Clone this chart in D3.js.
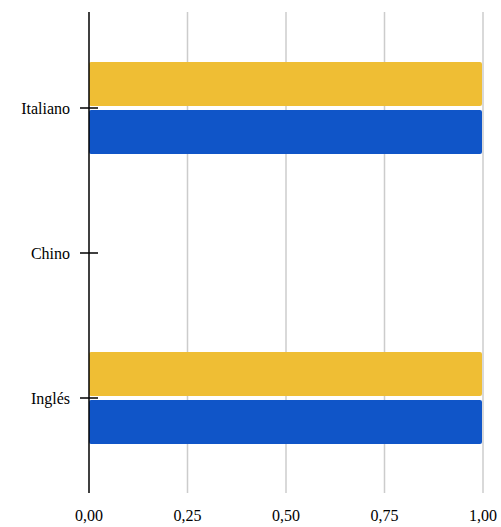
<!DOCTYPE html>
<html><head><meta charset="utf-8">
<script src="https://cdn.jsdelivr.net/npm/d3@7"></script>
<style>body{margin:0;background:#fff}svg{display:block}</style>
</head><body>
<script>
const categories = ["Italiano", "Chino", "Inglés"];
const seriesNames = ["Serie A", "Serie B"];
const seriesA = [1, 0, 1];
const seriesB = [1, 0, 1];
const xTicks = [0, 0.25, 0.5, 0.75, 1];
const colors = ["#EFBE34", "#1055C8"];

const W = 501, H = 527;
const svg = d3.select("body").append("svg").attr("width", W).attr("height", H);
const font = "'Liberation Serif', serif";

const x = d3.scaleLinear().domain([0, 1]).range([89, 483]);
const y = d3.scaleBand().domain(categories).range([35.5, 470.5]).padding(0);
const plotTop = 12, plotBottom = 493;
const sub = d3.scaleBand().domain(seriesNames).range([-46, 46]).paddingInner(0.0833);

svg.append("g").selectAll("line").data(xTicks.filter(d => d > 0)).join("line")
  .attr("x1", d => x(d)).attr("x2", d => x(d))
  .attr("y1", plotTop).attr("y2", plotBottom)
  .attr("stroke", "#cccccc").attr("stroke-width", 1.5);

const data = [];
categories.forEach((c, i) => {
  data.push({cat: c, s: seriesNames[0], v: seriesA[i], col: colors[0]});
  data.push({cat: c, s: seriesNames[1], v: seriesB[i], col: colors[1]});
});
svg.append("g").selectAll("rect").data(data.filter(d => d.v > 0)).join("rect")
  .attr("x", x(0))
  .attr("y", d => y(d.cat) + y.bandwidth() / 2 + sub(d.s))
  .attr("width", d => x(d.v) - x(0) - 1)
  .attr("height", sub.bandwidth())
  .attr("rx", 2).attr("ry", 2)
  .attr("fill", d => d.col);

svg.append("line").attr("x1", x(0)).attr("x2", x(0))
  .attr("y1", plotTop).attr("y2", plotBottom)
  .attr("stroke", "#000").attr("stroke-width", 1.5);

const yg = svg.append("g");
yg.selectAll("line").data(categories).join("line")
  .attr("x1", 80).attr("x2", 98)
  .attr("y1", d => y(d) + y.bandwidth() / 2).attr("y2", d => y(d) + y.bandwidth() / 2)
  .attr("stroke", "#000").attr("stroke-width", 1.5);
yg.selectAll("text").data(categories).join("text")
  .attr("x", 70).attr("y", d => y(d) + y.bandwidth() / 2 + 5.5)
  .attr("text-anchor", "end")
  .attr("font-family", font).attr("font-size", 16).attr("fill", "#000")
  .style("font-family", font).style("font-size", "16px")
  .text(d => d);

const fmt = d => d3.format(".2f")(d).replace(".", ",");
svg.append("g").selectAll("text").data(xTicks).join("text")
  .attr("x", d => x(d)).attr("y", 521)
  .attr("text-anchor", "middle")
  .attr("font-family", font).attr("font-size", 16).attr("fill", "#000")
  .style("font-family", font).style("font-size", "16px")
  .text(fmt);
</script>
</body></html>
